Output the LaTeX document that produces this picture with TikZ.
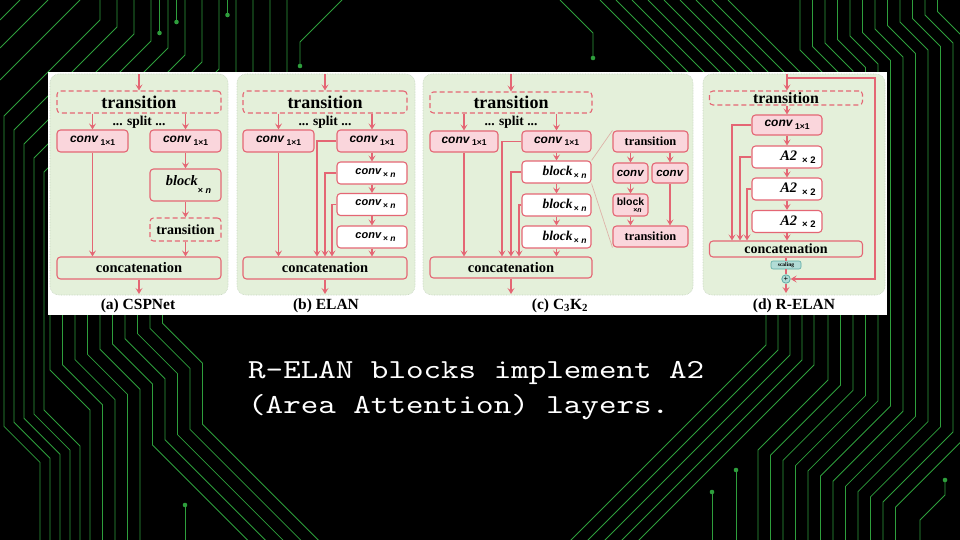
\documentclass[tikz,border=0pt]{standalone}
\usepackage{fontspec}
\setmainfont{Liberation Serif}
\setsansfont{Liberation Sans}
\newfontfamily\saymono[FakeStretch=1.215]{lmmono10-regular.otf}
\usetikzlibrary{arrows.meta}

\definecolor{trace}{RGB}{46,158,60}
\definecolor{pinkline}{RGB}{228,102,116}
\definecolor{pinkfill}{RGB}{250,214,220}
\definecolor{panelfill}{RGB}{228,240,218}
\definecolor{panelrim}{RGB}{196,212,190}
\definecolor{zoomline}{RGB}{222,178,168}
\definecolor{tealfill}{RGB}{178,220,214}
\definecolor{tealrim}{RGB}{92,170,164}

% box contents
\newcommand{\cvone}{\textsf{\textbf{\textit{conv}}}\,\raisebox{-2.5pt}{\sffamily\bfseries\fontsize{8.5}{8.5}\selectfont 1×1}}
\newcommand{\cvn}{\textsf{\textbf{\textit{conv}}}\raisebox{-3pt}{\sffamily\bfseries\fontsize{8.5}{8.5}\selectfont\,× \textit{n}}}
\newcommand{\blkn}{\textbf{\textit{block}}\raisebox{-3pt}{\sffamily\bfseries\fontsize{8.5}{8.5}\selectfont\,× \textit{n}}}
\newcommand{\atwo}{\textbf{\textit{A2}}\hspace{5pt}\raisebox{-2.5pt}{\sffamily\bfseries\fontsize{9.5}{9.5}\selectfont × 2}}

\begin{document}
\begin{tikzpicture}[x=1pt,y=-1pt,
  wire/.style={draw=trace, line width=0.8pt},
  panel/.style={fill=panelfill, draw=panelrim, densely dotted, line width=0.6pt, rounded corners=9pt},
  box/.style={draw=pinkline, line width=1.1pt, rounded corners=3.5pt, inner sep=0pt, text=black},
  pinkbox/.style={box, fill=pinkfill},
  whitebox/.style={box, fill=white},
  dashbox/.style={box, dash pattern=on 5pt off 3pt},
  link/.style={draw=pinkline, line width=1.1pt},
  arr/.style={link, -{Stealth[length=6pt,width=7pt,inset=2.5pt]}},
  tbig/.style={font=\fontsize{18}{18}\selectfont\bfseries},
  tmid/.style={font=\fontsize{14.5}{14.5}\selectfont\bfseries},
  tsm/.style={font=\fontsize{13.5}{13.5}\selectfont\bfseries},
  fcv/.style={font=\fontsize{12}{12}\selectfont},
  fcn/.style={font=\fontsize{11}{11}\selectfont},
  fblk/.style={font=\fontsize{13.5}{13.5}\selectfont},
  capt/.style={font=\fontsize{15.5}{15.5}\selectfont\bfseries, text=black},
  say/.style={anchor=base west, text=white, inner sep=0pt, font=\saymono\fontsize{27.5}{35}\selectfont}
]
% ---------- background ----------
\fill[black] (0,0) rectangle (960,540);
\useasboundingbox (0,0) rectangle (960,540);

% ---------- circuit traces ----------
% top-left corner
\draw[wire] (80,0) -- (0,80);
\draw[wire] (48,0) -- (0,48);
\draw[wire] (20,0) -- (0,20);
% drops from the top edge bending down-left, running down the left edge
\foreach \i in {0,...,4} {
  \draw[wire] ({100+17*\i},0) -- ({100+17*\i},{20+7*\i})
     -- ({4+10*\i},{116+14*\i}) -- ({4+10*\i},{410+4.1*(4-\i)})
     -- ++(36,36) -- ({40+10*\i},540);
}
\foreach \i in {5,...,11} {
  \draw[wire] ({100+17*\i},0) -- ({100+17*\i},{20+7*\i})
     -- ({50+12.5*(\i-5)},{20+7*\i+100+17*\i-50-12.5*(\i-5)})
     -- ({50+12.5*(\i-5)},312);
}
\foreach \x/\y in {159.5/33, 176.5/22, 227.5/15} {
  \draw[wire] (\x,0) -- (\x,\y);
  \fill[trace] (\x,\y) circle (2.3pt);
}
\draw[wire] (342,0) -- (300,42) -- (300,66);
\fill[trace] (300,66) circle (2.3pt);
% lower-left bus
\foreach \i in {0,...,4} {
  \draw[wire] ({50+12.5*\i},310) -- ({50+12.5*\i},{370-5.2*\i}) -- ++(40,40) -- ({90+12.5*\i},540);
}
\foreach \i in {5,...,9} {
  \draw[wire] ({50+12.5*\i},310) -- ({50+12.5*\i},{370-5.2*\i}) -- ++(40,40)
     -- ({90+12.5*\i},{445-5.2*(\i-5)}) -- ++(150,150);
}
\draw[wire] (185,505) -- (185,540);
\fill[trace] (185,505) circle (2.3pt);
% top-right diagonals
\draw[wire] (560,0) -- (593,33) -- (593,58);
\fill[trace] (593,58) circle (2.3pt);
\foreach \i in {0,...,8} {
  \draw[wire] ({600+16*\i},0) -- ++(140,140);
}
% right-hand bus
\foreach \i in {0,...,11} {
  \draw[wire] ({800+12.5*\i},0) -- ({800+12.5*\i},{50-3.5*\i}) -- ++(28,28)
     -- ({828+12.5*\i},{380+5.2*\i}) -- ++(-70,70) -- ({758+12.5*\i},540);
}
\foreach \i in {0,...,4} {
  \draw[wire] ({766+12*\i},310) -- ({766+12*\i},{345+5*\i}) -- ++(-220,220);
}
\draw[wire] (945,480) -- (945,495) -- (920,520) -- (920,540);
\fill[trace] (945,480) circle (2.3pt);
\draw[wire] (712,492) -- (712,540);
\fill[trace] (712,492) circle (2.3pt);
\draw[wire] (736,470) -- (736,540);
\fill[trace] (736,470) circle (2.3pt);

% ---------- figure card ----------
\fill[white] (48,72) rectangle (887,315);
\draw[panel] (50,74) rectangle (228,295);
\draw[panel] (237,74) rectangle (415,295);
\draw[panel] (423,74) rectangle (693,295);
\draw[panel] (703,74) rectangle (885,295);

% ---------- (a) CSPNet ----------
\node[dashbox, minimum width=164pt, minimum height=22pt, tbig] (ta) at (139,102) {transition};
\node[tsm] (spa) at (139,122.5) {... split ...};
\node[pinkbox, minimum width=71pt, minimum height=22pt, fcv] (ca1) at (92.5,141) {\cvone};
\node[pinkbox, minimum width=71pt, minimum height=22pt, fcv] (ca2) at (185.5,141) {\cvone};
\node[box, minimum width=71pt, minimum height=32pt, font=\fontsize{14.4}{14.4}\selectfont] (ba) at (185.5,185)
  {\hspace*{6pt}\textbf{\textit{block}}\raisebox{-8pt}{\sffamily\bfseries\fontsize{9}{9}\selectfont × \textit{n}}};
\node[dashbox, minimum width=71pt, minimum height=23pt, font=\fontsize{14}{14}\selectfont\bfseries] (ta2) at (185.5,229.5) {transition};
\node[box, minimum width=164pt, minimum height=22pt, tmid] (cca) at (139,268) {concatenation};
\coordinate (ina) at (139,74);
\coordinate (outa) at (139,294);
\draw[arr] (ina) -- (ta.north);
\draw[arr] (ta.south -| ca1) -- (ca1.north);
\draw[arr] (ta.south -| ca2) -- (ca2.north);
\draw[arr] (ca1.south) -- (ca1 |- cca.north);
\draw[arr] (ca2.south) -- (ba.north);
\draw[arr] (ba.south) -- (ta2.north);
\draw[arr] (ta2.south) -- (ta2 |- cca.north);
\draw[arr] (cca.south) -- (outa);
\node[capt] (la) at (138,306) {(a) CSPNet};

% ---------- (b) ELAN ----------
\node[dashbox, minimum width=164pt, minimum height=22pt, tbig] (tb) at (325,102) {transition};
\node[tsm] (spb) at (325,122.5) {... split ...};
\node[pinkbox, minimum width=71pt, minimum height=22pt, fcv] (cb1) at (278.5,141) {\cvone};
\node[pinkbox, minimum width=70pt, minimum height=22pt, fcv] (cb2) at (372,141) {\cvone};
\node[whitebox, minimum width=70pt, minimum height=22pt, fcn] (nb1) at (372,173) {\hspace*{7pt}\cvn};
\node[whitebox, minimum width=70pt, minimum height=22pt, fcn] (nb2) at (372,204.5) {\hspace*{7pt}\cvn};
\node[whitebox, minimum width=70pt, minimum height=22pt, fcn] (nb3) at (372,237) {\hspace*{7pt}\cvn};
\node[box, minimum width=164pt, minimum height=22pt, tmid] (ccb) at (325,268) {concatenation};
\coordinate (inb) at (325,74);
\coordinate (outb) at (325,294);
\draw[arr] (inb) -- (tb.north);
\draw[arr] (tb.south -| cb1) -- (cb1.north);
\draw[arr] (tb.south -| cb2) -- (cb2.north);
\draw[arr] (cb1.south) -- (cb1 |- ccb.north);
\draw[arr] (cb2.south) -- (nb1.north);
\draw[arr] (nb1.south) -- (nb2.north);
\draw[arr] (nb2.south) -- (nb3.north);
\draw[arr] (nb3.south) -- (nb3 |- ccb.north);
\draw[arr] (cb2.west) -| ([xshift=-8pt]ccb.north);
\draw[arr] (nb1.west) -| (ccb.north);
\draw[arr] (nb2.west) -| ([xshift=7pt]ccb.north);
\draw[arr] (ccb.south) -- (outb);
\node[capt] (lb) at (326,306) {(b) ELAN};

% ---------- (c) C3K2 ----------
\node[dashbox, minimum width=162pt, minimum height=21pt, tbig] (tc) at (511,102.5) {transition};
\node[tsm] (spc) at (511,122.5) {... split ...};
\node[pinkbox, minimum width=68pt, minimum height=21pt, fcv] (cc1) at (464,141.5) {\cvone};
\node[pinkbox, minimum width=69pt, minimum height=21pt, fcv] (cc2) at (556.5,141.5) {\cvone};
\node[whitebox, minimum width=69pt, minimum height=22pt, fblk] (bc1) at (556.5,172) {\hspace*{16pt}\blkn};
\node[whitebox, minimum width=69pt, minimum height=22pt, fblk] (bc2) at (556.5,205) {\hspace*{16pt}\blkn};
\node[whitebox, minimum width=69pt, minimum height=22pt, fblk] (bc3) at (556.5,237) {\hspace*{16pt}\blkn};
\node[box, minimum width=162pt, minimum height=21pt, tmid] (ccc) at (511,267.5) {concatenation};
\coordinate (inc) at (511,74);
\coordinate (outc) at (511,294);
\draw[arr] (inc) -- (tc.north);
\draw[arr] (tc.south -| cc1) -- (cc1.north);
\draw[arr] (tc.south -| cc2) -- (cc2.north);
\draw[arr] (cc1.south) -- (cc1 |- ccc.north);
\draw[arr] (cc2.south) -- (bc1.north);
\draw[arr] (bc1.south) -- (bc2.north);
\draw[arr] (bc2.south) -- (bc3.north);
\draw[arr] (bc3.south) -- (bc3 |- ccc.north);
\draw[arr] (cc2.west) -| ([xshift=-9pt]ccc.north);
\draw[arr] (bc1.west) -| (ccc.north);
\draw[arr] (bc2.west) -| ([xshift=8pt]ccc.north);
\draw[arr] (ccc.south) -- (outc);
% inside of one block
\node[pinkbox, minimum width=75pt, minimum height=21pt, font=\fontsize{12.4}{12.4}\selectfont\bfseries] (dtt) at (650.5,141.5) {transition};
\node[pinkbox, minimum width=35pt, minimum height=20pt, font=\fontsize{11.5}{11.5}\selectfont] (dcl) at (630.5,173) {\textsf{\textbf{\textit{conv}}}};
\node[pinkbox, minimum width=36pt, minimum height=20pt, font=\fontsize{11.5}{11.5}\selectfont] (dcr) at (670,173) {\textsf{\textbf{\textit{conv}}}};
\node[pinkbox, minimum width=35pt, minimum height=22pt, align=center, font=\fontsize{10.5}{10.5}\selectfont] (dbl) at (630.5,205)
  {\textsf{\textbf{block}}\\[-3pt]\hspace*{14pt}{\sffamily\bfseries\fontsize{7}{7}\selectfont ×\textit{n}}};
\node[pinkbox, minimum width=75pt, minimum height=21pt, font=\fontsize{12.4}{12.4}\selectfont\bfseries] (dtb) at (650.5,236.5) {transition};
\draw[arr] (dtt.south -| dcl) -- (dcl.north);
\draw[arr] (dtt.south -| dcr) -- (dcr.north);
\draw[arr] (dcl.south) -- (dbl.north);
\draw[arr] (dbl.south) -- (dbl |- dtb.north);
\draw[arr] (dcr.south) -- (dcr |- dtb.north);
\draw[zoomline, line width=0.7pt] (bc1.north east) -- (dtt.north west);
\draw[zoomline, line width=0.7pt] (bc1.south east) -- (dtb.south west);
\node[capt] (lc) at (560,306) {(c) C\textsubscript{3}K\textsubscript{2}};

% ---------- (d) R-ELAN ----------
\node[dashbox, minimum width=153pt, minimum height=14pt, font=\fontsize{15.8}{15.8}\selectfont\bfseries] (td) at (786,98) {transition};
\node[pinkbox, minimum width=70pt, minimum height=20pt, fcv] (cd) at (787,125) {\cvone};
\node[whitebox, minimum width=70pt, minimum height=22pt, font=\fontsize{14.5}{14.5}\selectfont] (ad1) at (787,157) {\hspace*{22pt}\atwo};
\node[whitebox, minimum width=70pt, minimum height=22pt, font=\fontsize{14.5}{14.5}\selectfont] (ad2) at (787,189) {\hspace*{22pt}\atwo};
\node[whitebox, minimum width=70pt, minimum height=22pt, font=\fontsize{14.5}{14.5}\selectfont] (ad3) at (787,221.5) {\hspace*{22pt}\atwo};
\node[box, minimum width=153pt, minimum height=16pt, font=\fontsize{14}{14}\selectfont\bfseries] (ccd) at (786,249) {concatenation};
\node[draw=tealrim, fill=tealfill, line width=0.6pt, rounded corners=2pt, minimum width=30pt, minimum height=8pt, inner sep=0pt,
      font=\fontsize{5.5}{5.5}\selectfont\bfseries] (sc) at (786,265) {scaling};
\node[circle, draw=tealrim, fill=tealfill, line width=0.8pt, minimum size=8.5pt, inner sep=0pt,
      font=\fontsize{8}{8}\selectfont\bfseries] (pl) at (786,279) {+};
\coordinate (ind) at (787,74);
\coordinate (rtop) at (875,78);
\coordinate (outd) at (786,293);
\draw[arr] (ind) -- (ind |- td.north);
\draw[arr] (ind |- rtop) -- (rtop) |- (pl.east);
\draw[arr] (cd |- td.south) -- (cd.north);
\draw[arr] (cd.south) -- (ad1.north);
\draw[arr] (ad1.south) -- (ad2.north);
\draw[arr] (ad2.south) -- (ad3.north);
\draw[arr] (ad3.south) -- (ad3 |- ccd.north);
\draw[arr] (cd.west) -| ([xshift=-54pt]ccd.north);
\draw[arr] (ad1.west) -| ([xshift=-46pt]ccd.north);
\draw[arr] (ad2.west) -| ([xshift=-39pt]ccd.north);
\draw[link] (ccd.south) -- (sc.north);
\draw[link] (sc.south) -- (pl.north);
\draw[arr] (pl.south) -- (outd);
\node[capt] (ld) at (794,306) {(d) R-ELAN};

% ---------- remark ----------
\node[say] (say1) at (248,378) {R-ELAN blocks implement A2};
\node[say] (say2) at (248,413) {(Area Attention) layers.};
\end{tikzpicture}
\end{document}
